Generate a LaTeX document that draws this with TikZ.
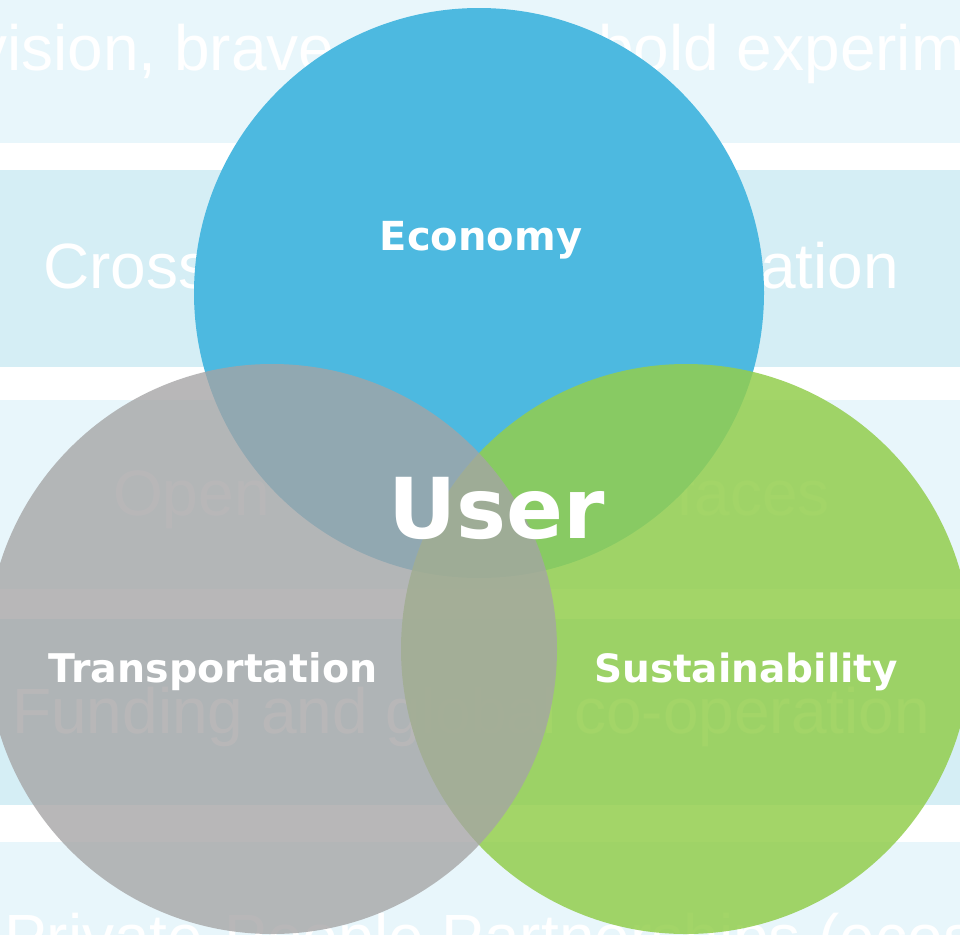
\documentclass[tikz,border=0pt]{standalone}
\usepackage{fontspec}
\setmainfont{Liberation Sans}
\newfontfamily\labelfont{DejaVu Sans}
\definecolor{bandlight}{RGB}{232,246,251}
\definecolor{banddark}{RGB}{213,238,245}
\definecolor{econblue}{RGB}{77,185,224}
\definecolor{susgreen}{RGB}{147,206,78}
\definecolor{transgray}{RGB}{165,164,165}
\begin{document}
\begin{tikzpicture}[x=1pt,y=-1pt,
  bandtext/.style={inner sep=0pt, text=white, font=\fontsize{64}{64}\selectfont},
  venn/.style={circle, draw=none, inner sep=0pt, minimum size=570pt},
  vennlabel/.style={inner sep=0pt, text=white, anchor=base, font=\labelfont\bfseries\fontsize{40}{40}\selectfont}]
\useasboundingbox (0,0) rectangle (960,935);
\clip (0,0) rectangle (960,935);
\fill[white] (0,0) rectangle (960,935);
% bands
\fill[bandlight] (0,0) rectangle (960,143);
\fill[banddark] (0,170) rectangle (960,367);
\fill[bandlight] (0,400) rectangle (960,589);
\fill[banddark] (0,619) rectangle (960,805);
\fill[bandlight] (0,842) rectangle (960,935);
% band texts
\node[bandtext, anchor=base west] (b1a) at (-25,70) {vision, brave};
\node[bandtext, anchor=base west] (b1b) at (598,70) {bold experim};
\node[bandtext, anchor=base west] (b2a) at (43,288) {Cross};
\node[bandtext, anchor=base east] (b2b) at (899,288) {ation};
\node[bandtext, anchor=base west] (b3a) at (113,515) {Open};
\node[bandtext, anchor=base east] (b3b) at (830,515) {faces};
\node[bandtext, anchor=base west] (b4) at (12,733) {Funding and global co-operation};
\node[bandtext, anchor=base west] (b5) at (4,959) {Private-People Partnerships (ecosy};
% circles
\node[venn, fill=econblue] (economy) at (479,293) {};
\node[venn, fill=susgreen, fill opacity=0.85] (sustain) at (686,649) {};
\node[venn, fill=transgray, fill opacity=0.78] (transport) at (272,649) {};
% labels
\node[vennlabel] (leco) at (481,250) {Economy};
\node[vennlabel, font=\labelfont\bfseries\fontsize{39.5}{39.5}\selectfont] (ltra) at (213,682) {Transportation};
\node[vennlabel, font=\labelfont\bfseries\fontsize{39}{39}\selectfont] (lsus) at (746,682) {Sustainability};
\node[vennlabel, font=\labelfont\bfseries\fontsize{84}{84}\selectfont] (luser) at (497,538) {User};
\end{tikzpicture}
\end{document}
